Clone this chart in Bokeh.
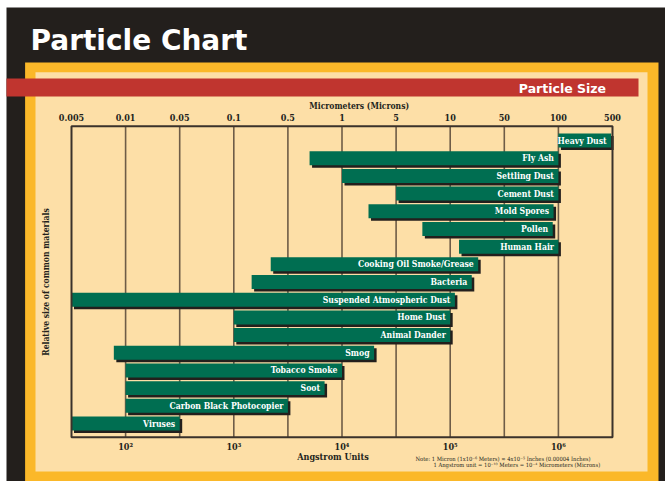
import numpy as np
from bokeh.plotting import figure
from bokeh.models import Range1d, FixedTicker, LinearAxis, BoxAnnotation, Label, ColumnDataSource, Grid
from bokeh.core.properties import value
from bokeh.embed import file_html
from bokeh.resources import INLINE

# ---------------- data ----------------
micron_ticks = [0.005, 0.01, 0.05, 0.1, 0.5, 1, 5, 10, 50, 100, 500]
micron_labels = ["0.005", "0.01", "0.05", "0.1", "0.5", "1", "5", "10", "50", "100", "500"]
angstrom_ticks_um = [0.01, 0.1, 1, 10, 100]
angstrom_labels = ["10²", "10³", "10⁴", "10⁵", "10⁶"]

materials = ["Heavy Dust", "Fly Ash", "Settling Dust", "Cement Dust", "Mold Spores", "Pollen",
             "Human Hair", "Cooking Oil Smoke/Grease", "Bacteria", "Suspended Atmospheric Dust",
             "Home Dust", "Animal Dander", "Smog", "Tobacco Smoke", "Soot",
             "Carbon Black Photocopier", "Viruses"]
size_min_um = [100, 0.66, 1, 5, 2.2, 7, 13, 0.3, 0.17, 0.005, 0.1, 0.1, 0.0086, 0.01, 0.01, 0.01, 0.005]
size_max_um = [480, 100, 100, 100, 94, 93, 100, 23, 19, 11.5, 10, 10, 2.6, 1, 0.8, 0.5, 0.05]

# ---------------- style / layout ----------------
DARK = "#231f1c"
YELLOW = "#fbb829"
CREAM = "#fddfa7"
RED = "#c0352f"
GREEN = "#006e51"
GRID = "#6e5c47"
FRAME = "#3a322b"
SERIF = "DejaVu Serif Condensed"
SANS = "DejaVu Sans"

W, H = 665, 481
PL, PR, PT, PB = 71.0, 612.0, 125.7, 436.7   # plot area in canvas px
YMIN, YMAX = 0.226, 17.81                     # row-axis extent of the plot area

# chart's pseudo-log scale: equal spacing between successive tick values
tick_pos = list(range(len(micron_ticks)))
def to_pos(v):
    return np.interp(np.log10(np.asarray(v, dtype=float)), np.log10(micron_ticks), tick_pos)

n = len(materials)
rows = np.arange(n, 0, -1)
left = to_pos(size_min_um)
right = to_pos(size_max_um)
kx = (PR - PL) / tick_pos[-1]
ky = (PB - PT) / (YMAX - YMIN)
sdx, sdy = 2.5 / kx, 2.5 / ky
src = ColumnDataSource(dict(name=materials, y=rows, left=left, right=right,
                            sleft=left + sdx, sright=right + sdx, sy=rows - sdy))

x_range = Range1d(-PL / kx, tick_pos[-1] + (W - PR) / kx)
y_range = Range1d(YMIN - (H - PB) / ky, YMAX + PT / ky)

p = figure(width=W, height=H, output_backend="svg", toolbar_location=None,
           x_range=x_range, y_range=y_range, x_axis_location=None, y_axis_location=None,
           min_border=0, min_border_left=0, min_border_right=0, min_border_top=0, min_border_bottom=0)
p.border_fill_color = "white"
p.background_fill_color = "white"
p.outline_line_color = None
for r in p.center:
    if isinstance(r, Grid):
        r.visible = False

# decorations (canvas px, top-down)
for (l, r, t, b, c) in [(6, 665, 7, 481, DARK), (24.6, 658, 62, 481, YELLOW),
                        (35, 647, 71.7, 471, CREAM), (6, 638, 78, 96, RED)]:
    p.add_layout(BoxAnnotation(left=l, right=r, top=t, bottom=b,
                               left_units="canvas", right_units="canvas",
                               top_units="canvas", bottom_units="canvas",
                               fill_color=c, fill_alpha=1, line_color=None, level="image"))

p.add_layout(Label(x=30, y=40, x_units="canvas", y_units="canvas", text="Particle Chart",
                   text_font=SANS, text_font_style="bold", text_font_size="28px",
                   text_color="white", text_baseline="middle"))
p.add_layout(Label(x=605.6, y=88.3, x_units="canvas", y_units="canvas", text="Particle Size",
                   text_font=SANS, text_font_style="bold", text_font_size="12.5px",
                   text_color="white", text_baseline="middle", text_align="right"))
p.add_layout(Label(x=358.7, y=105, x_units="canvas", y_units="canvas", text="Micrometers (Microns)",
                   text_font=SERIF, text_font_style="bold", text_font_size="8.5px",
                   text_color=DARK, text_baseline="middle", text_align="center"))
p.add_layout(Label(x=45.7, y=281.5, x_units="canvas", y_units="canvas",
                   text="Relative size of common materials", angle=np.pi / 2,
                   text_font=SERIF, text_font_style="bold", text_font_size="8.5px",
                   text_color=DARK, text_baseline="middle", text_align="center"))
p.add_layout(Label(x=415, y=458.3, x_units="canvas", y_units="canvas",
                   text="Note:  1 Micron (1x10⁻⁶ Meters) ≈  4x10⁻⁵ Inches (0.00004 Inches)",
                   text_font=SERIF, text_font_size="5.8px", text_color=DARK, text_baseline="middle"))
p.add_layout(Label(x=433, y=464, x_units="canvas", y_units="canvas",
                   text="1 Angstrom unit = 10⁻¹⁰ Meters = 10⁻⁴ Micrometers (Microns)",
                   text_font=SERIF, text_font_size="5.8px", text_color=DARK, text_baseline="middle"))

# axes, drawn at the edges of the plot area
top = LinearAxis(fixed_location=YMAX)
top.ticker = FixedTicker(ticks=tick_pos)
top.major_label_overrides = {int(i): s for i, s in zip(tick_pos, micron_labels)}
p.add_layout(top, "above")
bottom = LinearAxis(fixed_location=YMIN, axis_label="Angstrom Units")
bpos = [int(round(t)) for t in to_pos(angstrom_ticks_um)]
bottom.ticker = FixedTicker(ticks=bpos)
bottom.major_label_overrides = {i: s for i, s in zip(bpos, angstrom_labels)}
p.add_layout(bottom, "below")
for ax in (top, bottom):
    ax.major_tick_line_color = None
    ax.minor_tick_line_color = None
    ax.axis_line_color = None
    ax.major_label_text_font = SERIF
    ax.major_label_text_font_style = "bold"
    ax.major_label_text_font_size = "9px"
    ax.major_label_text_color = DARK
top.major_label_standoff = -1
bottom.major_label_standoff = -1
bottom.axis_label_text_font = SERIF
bottom.axis_label_text_font_style = "bold"
bottom.axis_label_text_font_size = "9px"
bottom.axis_label_text_color = DARK
bottom.axis_label_standoff = -4

# vertical grid lines at the inner ticks
inner = tick_pos[1:-1]
p.segment(x0=inner, x1=inner, y0=[YMIN] * len(inner), y1=[YMAX] * len(inner),
          line_color=GRID, line_width=1.6)

# bars
p.hbar(y="sy", left="sleft", right="sright", height=0.79, source=src, fill_color=DARK, line_color=None)
p.hbar(y="y", left="left", right="right", height=0.79, source=src, fill_color=GREEN, line_color=None)
p.text(x="right", y="y", text="name", source=src, x_offset=-4.5, text_align="right",
       text_baseline="middle", text_color="white", text_font=value(SERIF),
       text_font_style="bold", text_font_size="8.6px")

# plot-area frame
p.quad(left=[tick_pos[0]], right=[tick_pos[-1]], bottom=[YMIN], top=[YMAX],
       fill_color=None, line_color=FRAME, line_width=2)

open("out.html", "w").write(file_html(p, INLINE))
